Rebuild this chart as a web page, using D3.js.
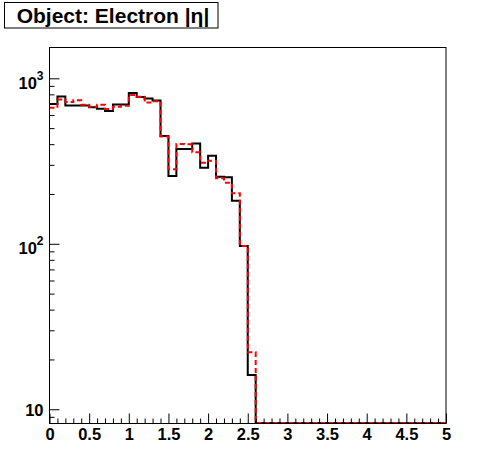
<!DOCTYPE html>
<html>
<head>
<meta charset="utf-8">
<script src="https://cdn.jsdelivr.net/npm/d3@7"></script>
<style>
  body { margin: 0; background: #fff; }
  svg { display: block; }
  text { font-family: "Liberation Sans", Arial, sans-serif; font-weight: bold; }
</style>
</head>
<body>
<div id="chart"></div>
<script>
// histogram definition: 50 bins from 0 to 5
const xMin = 0, xMax = 5, nBins = 50;

// |eta| distributions, bin contents (black solid, red dashed)
const blackValues = [
    700, 776, 685, 685, 685, 668, 655, 635, 695, 695,
    815, 770, 755, 735, 448, 257, 374, 374, 404, 288,
    341, 254, 252, 182, 97, 16.1, 0, 0, 0, 0,
    0, 0, 0, 0, 0, 0, 0, 0, 0, 0,
    0, 0, 0, 0, 0, 0, 0, 0, 0, 0
];
const redValues = [
    663, 744, 718, 736, 693, 673, 693, 653, 673, 683,
    793, 774, 713, 727, 445, 282, 401, 400, 357, 309,
    318, 249, 234, 202, 97, 22.1, 0, 0, 0, 0,
    0, 0, 0, 0, 0, 0, 0, 0, 0, 0,
    0, 0, 0, 0, 0, 0, 0, 0, 0, 0
];

const xMajorTicks = [0, 0.5, 1, 1.5, 2, 2.5, 3, 3.5, 4, 4.5, 5];
const yMajorTicks = [10, 100, 1000];
const yMinorTicks = [9, 20, 30, 40, 50, 60, 70, 80, 90, 200, 300, 400, 500, 600, 700, 800, 900];

const titleText = "Object: Electron |η|";

const width = 496, height = 472;
const frame = {left: 49.5, right: 446, top: 47, bottom: 423};
const yMin = 8.26, yMax = 1546;

const svg = d3.select('#chart')
    .append('svg')
    .attr('width', width)
    .attr('height', height);

svg.append('rect')
    .attr('width', width)
    .attr('height', height)
    .attr('fill', '#fff');

// scales
const xScale = d3.scaleLinear()
    .domain([xMin, xMax])
    .range([frame.left, frame.right]);

const yScale = d3.scaleLog()
    .domain([yMin, yMax])
    .range([frame.bottom, frame.top]);

const binWidth = (xMax - xMin) / nBins;

// step path for a histogram; empty bins sit on the frame bottom
function histPoints(values) {
    const pts = values.map((v, i) => [xMin + i * binWidth, Math.max(v, yMin)]);
    pts.push([xMax, Math.max(values[values.length - 1], yMin)]);
    return pts;
}

const line = d3.line()
    .x(d => xScale(d[0]))
    .y(d => yScale(d[1]))
    .curve(d3.curveStepAfter);

const plot = svg.append('g');

plot.append('path')
    .datum(histPoints(blackValues))
    .attr('d', line)
    .attr('fill', 'none')
    .attr('stroke', '#000')
    .attr('stroke-width', 2);

plot.append('path')
    .datum(histPoints(redValues))
    .attr('d', line)
    .attr('fill', 'none')
    .attr('stroke', '#ff0000')
    .attr('stroke-width', 2)
    .attr('stroke-dasharray', '5,3');

// frame
svg.append('rect')
    .attr('x', frame.left)
    .attr('y', frame.top + 0.5)
    .attr('width', frame.right - frame.left)
    .attr('height', frame.bottom - frame.top)
    .attr('fill', 'none')
    .attr('stroke', '#000')
    .attr('stroke-width', 1);

// x axis: minor then major ticks, pointing inward
const xMinorTicks = d3.range(nBins + 1).map(i => xMin + i * binWidth)
    .filter(v => !xMajorTicks.some(t => Math.abs(t - v) < 1e-9));

svg.append('g')
    .attr('transform', `translate(0,${frame.bottom + 0.5})`)
    .call(d3.axisBottom(xScale).tickValues(xMinorTicks).tickSize(-5).tickFormat(''))
    .call(g => g.select('.domain').remove());

svg.append('g')
    .attr('class', 'axis')
    .attr('transform', `translate(0,${frame.bottom + 0.5})`)
    .call(d3.axisBottom(xScale).tickValues(xMajorTicks).tickSize(-10).tickPadding(5)
        .tickFormat(d3.format('~g')))
    .call(g => g.select('.domain').remove())
    .selectAll('text')
    .attr('font-size', 16.5)
    .attr('fill', '#000');

// y axis
svg.append('g')
    .attr('transform', `translate(${frame.left},0)`)
    .call(d3.axisLeft(yScale).tickValues(yMinorTicks).tickSize(-5).tickFormat(''))
    .call(g => g.select('.domain').remove());

const yAxis = svg.append('g')
    .attr('class', 'axis')
    .attr('transform', `translate(${frame.left},0)`)
    .call(d3.axisLeft(yScale).tickValues(yMajorTicks).tickSize(-10).tickFormat(''))
    .call(g => g.select('.domain').remove());

yAxis.selectAll('.tick text').each(function(d) {
    const t = d3.select(this)
        .attr('x', -6)
        .attr('dy', null)
        .attr('text-anchor', 'end')
        .attr('font-size', 16.5)
        .attr('fill', '#000');
    const exp = Math.round(Math.log10(d));
    if (exp === 1) {
        t.attr('y', 6).text('10');
    } else {
        t.attr('y', 10);
        t.append('tspan').text('10');
        t.append('tspan').attr('dy', -9).attr('font-size', 12).text(exp);
    }
});

// title box
svg.append('rect')
    .attr('x', 4.5)
    .attr('y', 2.5)
    .attr('width', 213.5)
    .attr('height', 25.5)
    .attr('fill', '#fff')
    .attr('stroke', '#000')
    .attr('stroke-width', 1);

svg.append('text')
    .attr('x', 113)
    .attr('y', 23)
    .attr('text-anchor', 'middle')
    .attr('font-size', 21)
    .attr('fill', '#000')
    .text(titleText);
</script>
</body>
</html>
